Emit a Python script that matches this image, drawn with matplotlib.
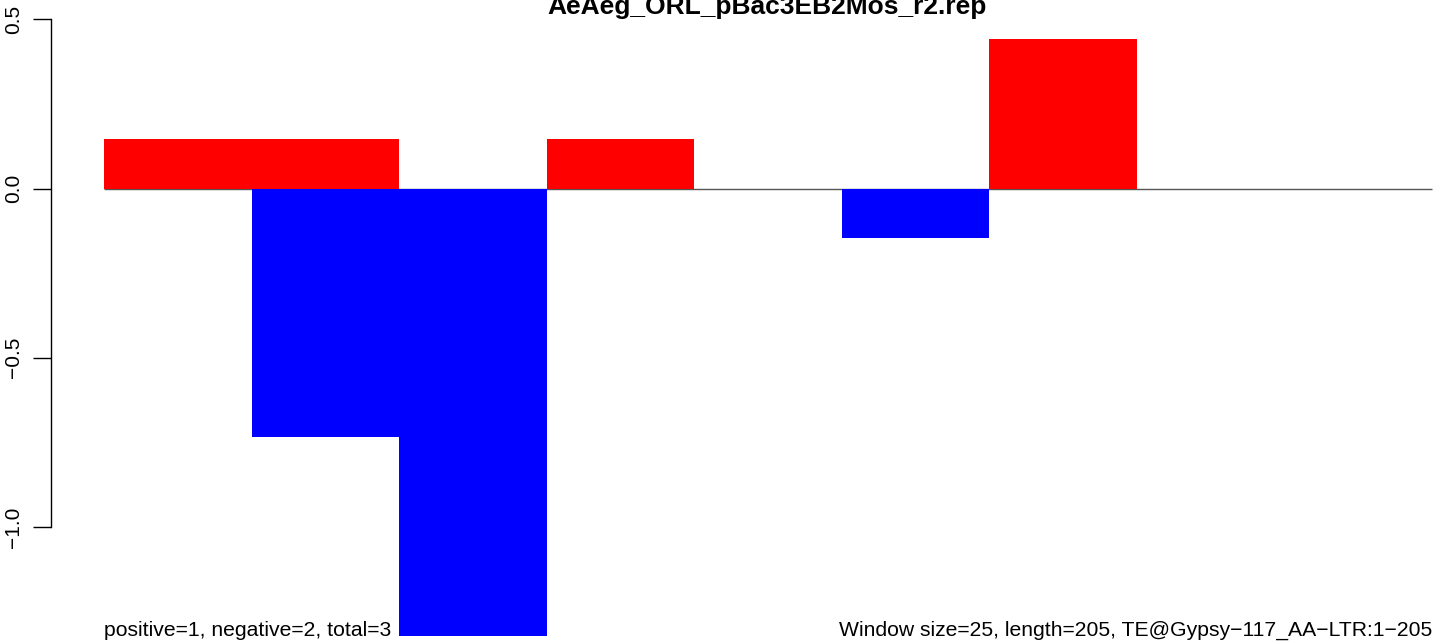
import matplotlib
matplotlib.use("Agg")
from matplotlib import pyplot as plt
import numpy as np

plt.rcParams["font.family"] = ["Liberation Sans", "DejaVu Sans"]

# windows of 25 bp along the 205 bp TE
positive = [0.146, 0.146, 0.0, 0.146, 0.0, 0.0, 0.441, 0.0, 0.0]
negative = [0.0, -0.734, -1.323, 0.0, 0.0, -0.146, 0.0, 0.0, 0.0]
yticks = [-1.0, -0.5, 0.0, 0.5]
ytick_txt = ["\u22121.0", "\u22120.5", "0.0", "0.5"]

title = "AeAeg_ORL_pBac3EB2Mos_r2.rep"
left_txt = "positive=1, negative=2, total=3"
right_txt = "Window size=25, length=205, TE@Gypsy\u2212117_AA\u2212LTR:1\u2212205"

W, H = 1444, 641
fig = plt.figure(figsize=(W / 100, H / 100), dpi=100)
# plot region runs a bit past the right and bottom edges (cropped R output)
ax = fig.add_axes([51 / W, (H - 659) / H, (1485 - 51) / W, 643 / H])

n = len(positive)
x = np.arange(n)
ax.hlines(0, 0, n, color="#555555", lw=1.0, zorder=1)
ax.bar(x, positive, width=1.0, align="edge", color="#FF0000", lw=0, zorder=2)
ax.bar(x, negative, width=1.0, align="edge", color="#0000FF", lw=0, zorder=2)

ax.set_xlim(-0.36, n + 0.36)
ax.set_ylim(-1.39, 0.51)

for s in ["top", "right", "bottom"]:
    ax.spines[s].set_visible(False)
ax.spines["left"].set_bounds(-1.0, 0.5)
ax.spines["left"].set_linewidth(1.0)
ax.set_xticks([])
ax.set_yticks(yticks)
ax.set_yticklabels(ytick_txt, rotation=90, va="center", fontsize=15)
ax.tick_params(axis="y", length=13, width=1.0, pad=7)

fig.text(767 / W, 1 - 14 / H, title, ha="center", va="baseline",
         fontsize=19, fontweight="bold")
fig.text(104 / W, 1 - 636 / H, left_txt, ha="left", va="baseline", fontsize=15.2)
fig.text(1432 / W, 1 - 636 / H, right_txt, ha="right", va="baseline", fontsize=15.2)

fig.savefig("out.png", dpi=100)
